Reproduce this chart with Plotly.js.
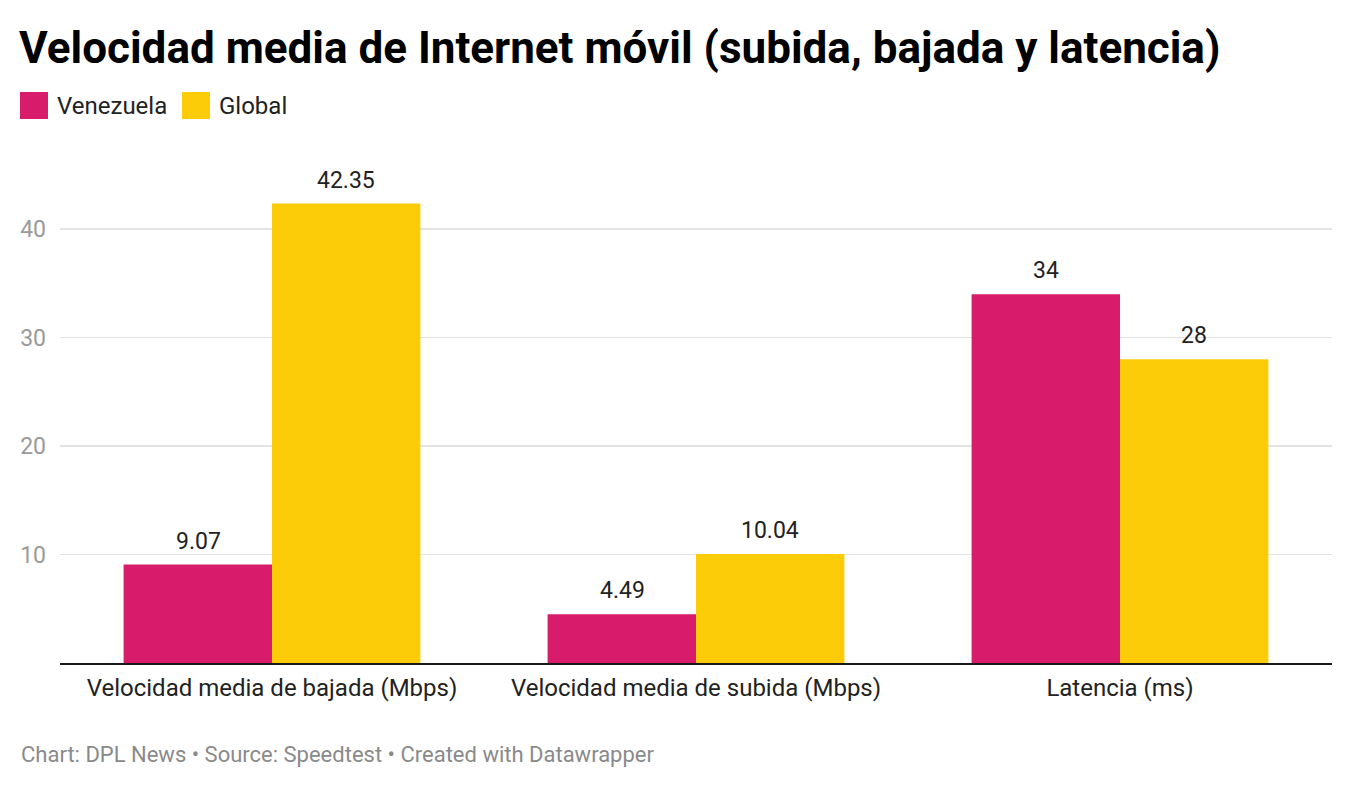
<!DOCTYPE html>
<html>
<head>
<meta charset="utf-8">
<script src="https://cdn.plot.ly/plotly-3.0.1.min.js"></script>
<style>
html,body{margin:0;padding:0;background:#fff;}
#chart{width:1352px;height:788px;}
</style>
</head>
<body>
<div id="chart"></div>
<script>
const categories = ["Velocidad media de bajada (Mbps)", "Velocidad media de subida (Mbps)", "Latencia (ms)"];
const venezuela = [9.07, 4.49, 34];
const global = [42.35, 10.04, 28];
const venezuelaLabels = ["9.07", "4.49", "34"];
const globalLabels = ["42.35", "10.04", "28"];
const seriesNames = ["Venezuela", "Global"];
const colors = ["#d81b6a", "#fdcc08"];
const yTicks = [10, 20, 30, 40];

const W = 1352, H = 788;
const mL = 60, mR = 20, mT = 164, mB = 125;
const plotW = W - mL - mR, plotH = H - mT - mB;
const px = x => (x - mL) / plotW;
const py = y => (H - mB - y) / plotH;

const font = "Roboto, 'Noto Sans', sans-serif";

const traces = [
  {type: "bar", name: seriesNames[0], x: categories, y: venezuela, marker: {color: colors[0]}, hoverinfo: "none"},
  {type: "bar", name: seriesNames[1], x: categories, y: global, marker: {color: colors[1]}, hoverinfo: "none"}
];

const annotations = [];
const shift = 74;
categories.forEach((c, i) => {
  annotations.push({x: c, y: venezuela[i], xref: "x", yref: "y", text: venezuelaLabels[i], showarrow: false,
    xshift: -shift, yshift: 8, yanchor: "bottom", font: {family: font, size: 23, color: "#222"}});
  annotations.push({x: c, y: global[i], xref: "x", yref: "y", text: globalLabels[i], showarrow: false,
    xshift: shift, yshift: 8, yanchor: "bottom", font: {family: font, size: 23, color: "#222"}});
});

// legend
const shapes = [];
const legendItems = [{x: 20, label: seriesNames[0], color: colors[0]}, {x: 182, label: seriesNames[1], color: colors[1]}];
legendItems.forEach(it => {
  shapes.push({type: "rect", xref: "paper", yref: "paper", x0: px(it.x), x1: px(it.x + 28), y0: py(119), y1: py(92),
    fillcolor: it.color, line: {width: 0}});
  annotations.push({xref: "paper", yref: "paper", x: px(it.x + 35), y: py(105.5), xanchor: "left", yanchor: "middle",
    text: it.label, showarrow: false, font: {family: font, size: 24, color: "#222"}});
});

annotations.push({xref: "paper", yref: "paper", x: px(19), y: py(754), xanchor: "left", yanchor: "middle",
  text: "Chart: DPL News • Source: Speedtest • Created with Datawrapper", showarrow: false,
  font: {family: font, size: 22, color: "#8a8a8a"}});

const layout = {
  width: W, height: H,
  margin: {l: mL, r: mR, t: mT, b: mB, pad: 0},
  paper_bgcolor: "#fff", plot_bgcolor: "#fff",
  showlegend: false,
  barmode: "group", bargap: 0.3, bargroupgap: 0,
  title: {text: "<b>Velocidad media de Internet móvil (subida, bajada y latencia)</b>",
    x: 19 / W, xref: "container", xanchor: "left", y: 1 - 48 / H, yref: "container", yanchor: "middle",
    font: {family: font, size: 44, color: "#000"}},
  xaxis: {type: "category", showgrid: false, showline: true, linecolor: "#1a1a1a", linewidth: 2,
    ticks: "", ticklabelstandoff: 2, tickfont: {family: font, size: 24, color: "#222"}, fixedrange: true},
  yaxis: {range: [0, 46], tickvals: yTicks, ticktext: yTicks.map(String), showgrid: true, gridcolor: "#e3e3e3", gridwidth: 1.5,
    zeroline: false, showline: false, ticks: "", ticklabelstandoff: 13,
    tickfont: {family: font, size: 23, color: "#9a9a9a"}, fixedrange: true},
  font: {family: font},
  annotations: annotations,
  shapes: shapes
};

Plotly.newPlot("chart", traces, layout, {displayModeBar: false, staticPlot: true});
</script>
</body>
</html>
